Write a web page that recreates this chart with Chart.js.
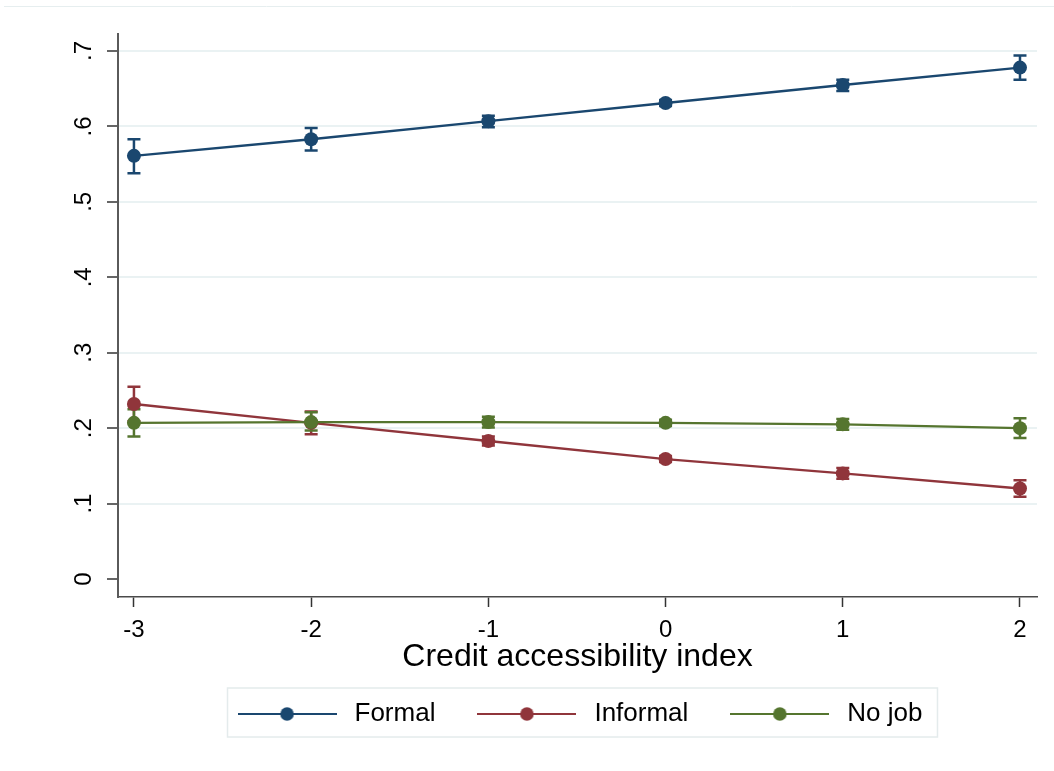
<!DOCTYPE html>
<html>
<head>
<meta charset="utf-8">
<script src="https://cdn.jsdelivr.net/npm/chart.js@4"></script>
<style>
  html, body { margin: 0; padding: 0; background: #ffffff; }
  #wrap { width: 1054px; height: 771px; position: relative; }
</style>
</head>
<body>
<div id="wrap"><canvas id="c" width="1054" height="771"></canvas></div>
<script>
// ---- data ----
const xValues = [-3, -2, -1, 0, 1, 2];
const xTicks = [-3, -2, -1, 0, 1, 2];
const yTicks = [0, 0.1, 0.2, 0.3, 0.4, 0.5, 0.6, 0.7];
const yTickLabels = ['0', '.1', '.2', '.3', '.4', '.5', '.6', '.7'];
const seriesNames = ['Formal', 'Informal', 'No job'];

const formal   = [0.561, 0.583, 0.607, 0.631, 0.655, 0.678];
const formalLo = [0.538, 0.568, 0.599, 0.627, 0.647, 0.662];
const formalHi = [0.583, 0.598, 0.614, 0.635, 0.662, 0.694];

const informal   = [0.232, 0.207, 0.183, 0.159, 0.140, 0.120];
const informalLo = [0.209, 0.192, 0.177, 0.155, 0.133, 0.109];
const informalHi = [0.255, 0.222, 0.189, 0.163, 0.147, 0.131];

const nojob   = [0.207, 0.208, 0.208, 0.207, 0.205, 0.200];
const nojobLo = [0.189, 0.197, 0.201, 0.203, 0.198, 0.187];
const nojobHi = [0.225, 0.221, 0.215, 0.211, 0.212, 0.213];

const colors = ['#1a476f', '#90353b', '#55752f'];
const values = [formal, informal, nojob];
const lows = [formalLo, informalLo, nojobLo];
const highs = [formalHi, informalHi, nojobHi];

const FONT = "'Liberation Sans', Arial, Helvetica, sans-serif";

function legendSymbol(color) {
  const c = document.createElement('canvas');
  c.width = 99; c.height = 16;
  const g = c.getContext('2d');
  g.strokeStyle = color; g.lineWidth = 2.2;
  g.beginPath(); g.moveTo(0, 8); g.lineTo(99, 8); g.stroke();
  g.fillStyle = color;
  g.beginPath(); g.arc(49.5, 8, 6.8, 0, Math.PI * 2); g.fill();
  return c;
}
const symbols = colors.map(legendSymbol);

const errorBars = {
  id: 'errorBars',
  beforeDatasetsDraw(chart) {
    const ctx = chart.ctx;
    const xs = chart.scales.x, ys = chart.scales.y;
    ctx.save();
    for (let i = 0; i < values.length; i++) {
      ctx.strokeStyle = colors[i];
      ctx.lineWidth = 2.5;
      for (let j = 0; j < xValues.length; j++) {
        const px = xs.getPixelForValue(xValues[j]);
        const pl = ys.getPixelForValue(lows[i][j]);
        const ph = ys.getPixelForValue(highs[i][j]);
        ctx.beginPath();
        ctx.moveTo(px, pl); ctx.lineTo(px, ph);
        ctx.moveTo(px - 6.5, pl); ctx.lineTo(px + 6.5, pl);
        ctx.moveTo(px - 6.5, ph); ctx.lineTo(px + 6.5, ph);
        ctx.stroke();
      }
    }
    ctx.restore();
  }
};

const frame = {
  id: 'frame',
  beforeDraw(chart) {
    const ctx = chart.ctx;
    ctx.save();
    ctx.strokeStyle = '#e6eeef';
    ctx.lineWidth = 1;
    ctx.beginPath(); ctx.moveTo(4, 6.5); ctx.lineTo(1054, 6.5); ctx.stroke();
    ctx.restore();
  },
  afterDraw(chart) {
    const lg = chart.legend;
    if (!lg || !lg.legendHitBoxes || !lg.legendHitBoxes.length) return;
    const hb = lg.legendHitBoxes;
    const first = hb[0], last = hb[hb.length - 1];
    const left = first.left - 5;
    const right = last.left + last.width + 15;
    const cy = first.top + first.height / 2;
    const ctx = chart.ctx;
    ctx.save();
    ctx.strokeStyle = '#e4ebec';
    ctx.lineWidth = 1.5;
    ctx.strokeRect(left, cy - 26, right - left, 49);
    ctx.restore();
  }
};

const datasets = seriesNames.map((name, i) => ({
  label: name,
  data: xValues.map((x, j) => ({ x: x, y: values[i][j] })),
  borderColor: colors[i],
  backgroundColor: colors[i],
  borderWidth: 2.4,
  pointRadius: 7,
  pointHoverRadius: 7,
  pointBorderWidth: 0,
  pointBackgroundColor: colors[i],
  tension: 0,
  order: seriesNames.length - i
}));

new Chart(document.getElementById('c'), {
  type: 'line',
  data: { datasets },
  plugins: [errorBars, frame],
  options: {
    responsive: false,
    animation: false,
    devicePixelRatio: 1,
    layout: { padding: { left: 4, right: 17, top: 34, bottom: 34 } },
    scales: {
      x: {
        type: 'linear',
        min: -3.09,
        max: 2.096,
        afterBuildTicks: s => { s.ticks = xTicks.map(v => ({ value: v })); },
        afterFit: s => { s.height = 67; },
        border: { display: true, color: '#4a4a4a', width: 1.5 },
        grid: { display: true, drawOnChartArea: false, drawTicks: true, tickLength: 10, tickColor: '#333333', tickWidth: 1.5 },
        ticks: {
          autoSkip: false, maxRotation: 0, minRotation: 0, padding: 9,
          color: '#000000', font: { family: FONT, size: 24 },
          callback: (v) => String(v)
        },
        title: {
          display: true, text: 'Credit accessibility index', color: '#000000',
          font: { family: FONT, size: 32 }, padding: { top: 0, bottom: -12 }
        }
      },
      y: {
        type: 'linear',
        min: -0.02386,
        max: 0.72254,
        afterBuildTicks: s => { s.ticks = yTicks.map(v => ({ value: v })); },
        afterFit: s => { s.width = 114; },
        border: { display: true, color: '#5a5a5a', width: 2 },
        grid: {
          display: true, drawOnChartArea: true, drawTicks: true, tickLength: 11,
          tickColor: '#333333', tickWidth: 1.5, lineWidth: 2,
          color: (c) => (c.tick && c.tick.value === 0) ? 'rgba(0,0,0,0)' : '#eaf2f3'
        },
        ticks: {
          autoSkip: false, minRotation: 90, maxRotation: 90, crossAlign: 'center', padding: 13,
          color: '#000000', font: { family: FONT, size: 24 },
          callback: (v, idx) => yTickLabels[idx]
        }
      }
    },
    plugins: {
      tooltip: { enabled: false },
      legend: {
        display: true,
        position: 'bottom',
        fullSize: false,
        align: 'center',
        labels: {
          usePointStyle: true,
          pointStyleWidth: 109,
          padding: 37,
          color: '#000000',
          font: { family: FONT, size: 26 },
          generateLabels: (chart) => seriesNames.map((n, i) => ({
            text: n,
            fillStyle: colors[i],
            strokeStyle: colors[i],
            lineWidth: 0,
            pointStyle: symbols[i],
            datasetIndex: i,
            hidden: false,
            fontColor: '#000000'
          }))
        }
      }
    }
  }
});
</script>
</body>
</html>
